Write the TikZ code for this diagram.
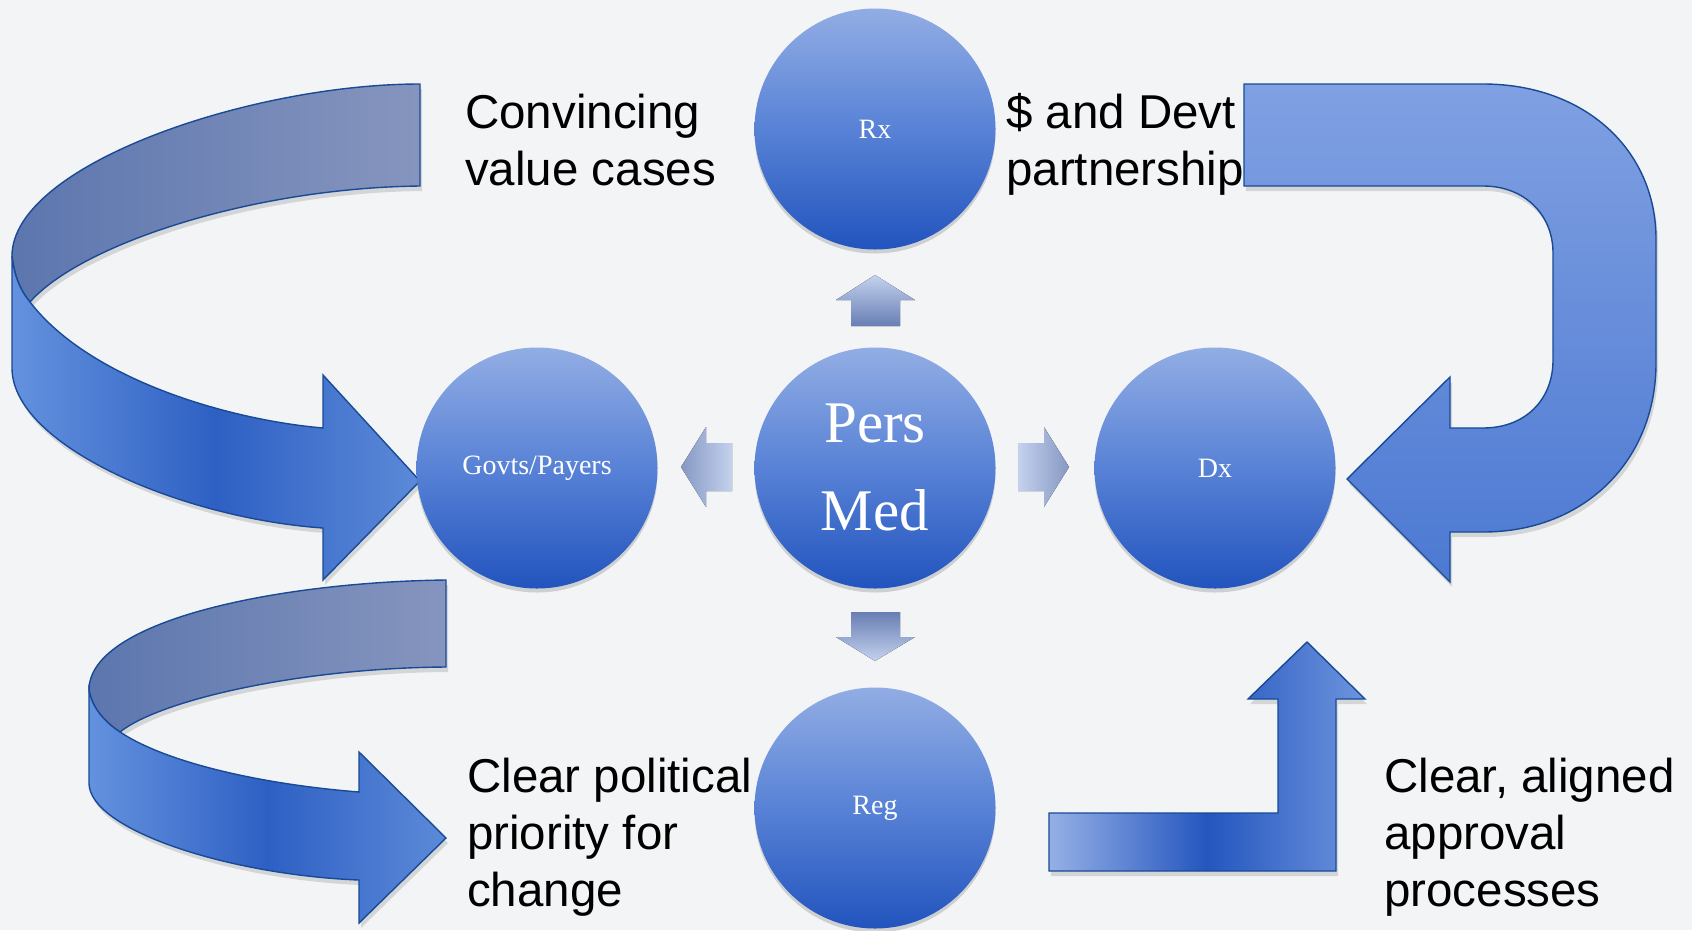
\documentclass[tikz,border=0pt]{standalone}
\usepackage{fontspec}
\newfontfamily\arialf{Liberation Sans}
\newfontfamily\seriff{Liberation Serif}
\usetikzlibrary{shadows}
\definecolor{bgc}{RGB}{243,244,246}
\definecolor{edgec}{RGB}{24,74,150}
\definecolor{circT}{RGB}{146,173,228}
\definecolor{circM}{RGB}{88,130,214}
\definecolor{circB}{RGB}{34,84,190}
\definecolor{backL}{RGB}{92,118,174}
\definecolor{backR}{RGB}{134,149,190}
\definecolor{frontL}{RGB}{100,146,222}
\definecolor{frontM}{RGB}{46,96,196}
\definecolor{frontR}{RGB}{92,138,216}
\definecolor{uT}{RGB}{128,160,226}
\definecolor{uB}{RGB}{76,121,210}
\definecolor{bentL}{RGB}{150,176,230}
\definecolor{bentM}{RGB}{36,86,190}
\definecolor{bentR}{RGB}{110,148,222}
\definecolor{smallL}{RGB}{196,210,238}
\definecolor{smallD}{RGB}{104,126,180}
\begin{document}
\begin{tikzpicture}[x=1pt,y=-1pt,
  bubble/.style={circle,minimum size=241pt,inner sep=0pt,text=white,
    top color=circT,bottom color=circB,middle color=circM,
    drop shadow={shadow xshift=0pt,shadow yshift=-4pt,opacity=0.22,fill=black!70}},
  bigarrow/.style={draw=edgec,line width=1.4pt,line join=miter},
  softshadow/.style={drop shadow={shadow xshift=2pt,shadow yshift=-5pt,opacity=0.18,fill=black!70}},
  lbl/.style={inner sep=0pt,anchor=base west,font=\arialf\fontsize{47.5}{57}\selectfont},
  smalltext/.style={font=\seriff\fontsize{28}{32}\selectfont}]
\useasboundingbox (0,0) rectangle (1692,930);
\fill[bgc] (0,0) rectangle (1692,930);

% ---- top-left curved arrow: back face
\path[bigarrow,left color=backL,right color=backR,softshadow]
  (420,84) .. controls (250,84) and (12,165) .. (12,256)
  .. controls (14,275) and (20,290) .. (30,302)
  .. controls (80,245) and (250,188) .. (420,186) -- cycle;
% front face
\path[bigarrow,left color=frontL,right color=frontR,middle color=frontM,softshadow]
  (12,256) -- (12,368) .. controls (12,445) and (180,518) .. (323,528)
  -- (323,580) -- (420,481) -- (323,375) -- (323,428)
  .. controls (230,420) and (90,380) .. (30,302)
  .. controls (20,290) and (14,275) .. (12,256) -- cycle;

% ---- bottom-left curved arrow: back face
\path[bigarrow,left color=backL,right color=backR,softshadow]
  (446,580) .. controls (280,582) and (89,620) .. (89,690)
  .. controls (92,708) and (105,722) .. (120,732)
  .. controls (160,700) and (300,668) .. (446,667) -- cycle;
% front face
\path[bigarrow,left color=frontL,right color=frontR,middle color=frontM,softshadow]
  (89,690) -- (89,783) .. controls (89,830) and (230,875) .. (359,880)
  -- (359,923) -- (446,838) -- (359,752) -- (359,792)
  .. controls (270,785) and (170,765) .. (120,732)
  .. controls (105,722) and (92,708) .. (89,690) -- cycle;

% ---- top-right U arrow
\path[bigarrow,top color=uT,bottom color=uB,softshadow]
  (1244,84) -- (1483,84) .. controls (1585,84) and (1656,150) .. (1656,239)
  -- (1656,363) .. controls (1656,460) and (1585,532) .. (1483,532)
  -- (1450,532) -- (1450,582) -- (1347,479) -- (1450,377) -- (1450,428)
  -- (1483,428) .. controls (1525,428) and (1553,400) .. (1553,360)
  -- (1553,253) .. controls (1553,215) and (1525,186) .. (1483,186)
  -- (1244,186) -- cycle;

% ---- bottom-right bent-up arrow
\path[bigarrow,left color=bentL,right color=bentR,middle color=bentM,softshadow]
  (1049,813) -- (1278,813) -- (1278,699) -- (1248,699) -- (1307,642)
  -- (1365,699) -- (1336,699) -- (1336,871) -- (1049,871) -- cycle;

% ---- circles
\node[bubble,smalltext] (rx)  at (875,129) {Rx};
\node[bubble,smalltext] (gov) at (537,468) {Govts/Payers};
\node[bubble,font=\seriff\fontsize{59}{90}\selectfont] (pm) at (875,468)
  {\begin{tabular}{@{}c@{}}Pers\\[-2pt]Med\end{tabular}};
\node[bubble,smalltext] (dx)  at (1215,468) {Dx};
\node[bubble,smalltext] (reg) at (875,808) {Reg};

% ---- small arrows around Pers Med
\fill[top color=smallL,bottom color=smallD]
  (875,275) -- (915,300) -- (900,300) -- (900,326) -- (851,326) -- (851,300) -- (836,300) -- cycle;
\fill[top color=smallD,bottom color=smallL]
  (851,612) -- (900,612) -- (900,637) -- (915,637) -- (875,661) -- (836,637) -- (851,637) -- cycle;
\fill[left color=smallL,right color=smallD!80!white]
  (1018,443) -- (1044,443) -- (1044,427) -- (1069,467) -- (1044,507) -- (1044,491) -- (1018,491) -- cycle;
\fill[right color=smallL,left color=smallD!80!white]
  (732,443) -- (706,443) -- (706,427) -- (681,467) -- (706,507) -- (706,491) -- (732,491) -- cycle;

% ---- text labels
\node[lbl] (t1) at (465,128) {\begin{tabular}[t]{@{}l@{}}Convincing\\value cases\end{tabular}};
\node[lbl] (t2) at (1006,128) {\begin{tabular}[t]{@{}l@{}}\$ and Devt\\partnership\end{tabular}};
\node[lbl] (t3) at (467,792) {\begin{tabular}[t]{@{}l@{}}Clear political\\priority for\\change\end{tabular}};
\node[lbl] (t4) at (1384,792) {\begin{tabular}[t]{@{}l@{}}Clear, aligned\\approval\\processes\end{tabular}};
\end{tikzpicture}
\end{document}
